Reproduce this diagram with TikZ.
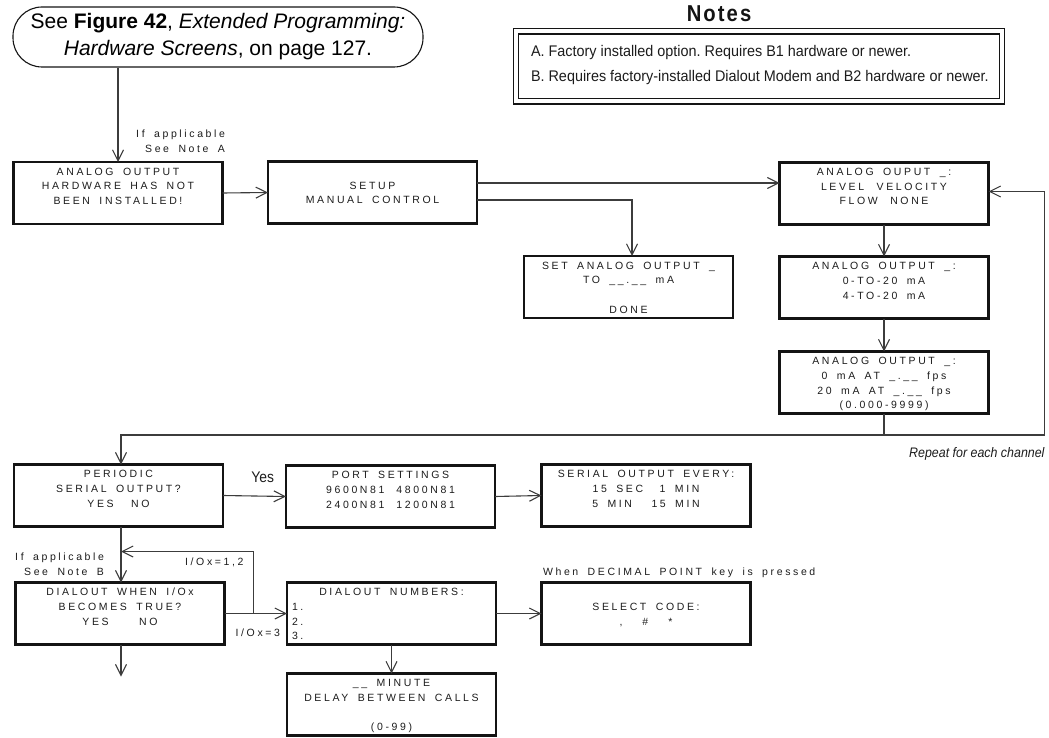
\documentclass[tikz,border=0pt]{standalone}
\usepackage{fontspec}
\setmainfont{Liberation Sans}
\newfontfamily\lcdfont[LetterSpace=25,WordSpace=1.7]{Liberation Sans}
\newfontfamily\narrowfont[FakeStretch=0.935]{Liberation Sans}
\newfontfamily\italfont[FakeStretch=0.9]{Liberation Sans}
\newfontfamily\titlefont[FakeStretch=0.88,LetterSpace=9]{Liberation Sans}
\usetikzlibrary{arrows.meta,calc}
\definecolor{boxcol}{HTML}{141414}
\definecolor{linecol}{HTML}{3C3C3C}
\definecolor{txtcol}{HTML}{1C1C1C}
\newcommand\lcd{\lcdfont\fontsize{10.5}{14.6}\selectfont}
\newcommand\scrtext[1]{\parbox[c][62pt][t]{209pt}{\centering\lcd\rule{0pt}{13.3pt}#1\par}}
\newcommand\numline[1]{\makebox[\linewidth][l]{\hspace*{5pt}#1}}
\newcommand\gap[1]{\hspace{#1pt}}
\frenchspacing
\begin{document}
\begin{tikzpicture}[x=1pt,y=-1pt,
 screen/.style={draw=boxcol, line width=2.2pt, inner sep=0pt, outer sep=0pt, text=txtcol, minimum width=209pt, minimum height=62pt},
 arr/.style={draw=linecol, line width=1.1pt, -{Straight Barb[length=11pt,width=11pt]}},
 conn/.style={draw=linecol, line width=1.1pt},
 lbl/.style={inner sep=0pt, outer sep=0pt, text=txtcol, font=\lcd},
 refbox/.style={draw=boxcol, line width=1.1pt, rounded corners=29pt, minimum width=410pt, minimum height=60pt, align=center, inner sep=0pt, font=\fontsize{21}{27}\selectfont},
 notesbox/.style={draw=boxcol, line width=1.2pt, double=white, double distance=4pt, inner sep=0pt, outer sep=0pt, minimum width=486pt, minimum height=70pt, text=txtcol},
]
\useasboundingbox (0,0) rectangle (1049,738);

\node[refbox] (ref) at (218,37) {See \textbf{Figure 42}, \textit{Extended Programming:}\\\textit{Hardware Screens}, on page 127.};

\node[notesbox] (notes) at (759,66.5) {\parbox[c][70pt][t]{470pt}{\raggedright\narrowfont\fontsize{15.4}{24.5}\selectfont\rule{0pt}{25.5pt}\hspace*{7pt}A. Factory installed option. Requires B1 hardware or newer.\\\hspace*{7pt}B. Requires factory-installed Dialout Modem and B2 hardware or newer.\par}};
\node[inner sep=0pt, anchor=base, text=boxcol, font=\fontsize{23}{26}\selectfont\titlefont\bfseries] (notestitle) at ([xshift=-40pt,yshift=9.5pt]notes.north) {Notes};

\node[screen] (hw) at (118,193) {\scrtext{ANALOG OUTPUT\\HARDWARE HAS NOT\\BEEN INSTALLED!}};
\node[screen] (setup) at (372.5,192.5) {\scrtext{\mbox{}\\SETUP\\MANUAL CONTROL}};
\node[screen] (selv) at (884,193.5) {\scrtext{ANALOG OUPUT \_:\\LEVEL\gap{12.5}VELOCITY\\FLOW\gap{12.5}NONE}};
\node[screen] (setao) at (628.5,287) {\scrtext{SET ANALOG OUTPUT \_\\TO \_\_.\_\_ mA\\\mbox{}\\DONE}};
\node[screen] (range) at (884,287.5) {\scrtext{ANALOG OUTPUT \_:\\0-TO-20 mA\\4-TO-20 mA}};
\node[screen] (span) at (884,382.5) {\scrtext{ANALOG OUTPUT \_:\\0 mA AT \_.\_\_ fps\\20 mA AT \_.\_\_ fps\\(0.000-9999)}};
\node[screen] (periodic) at (118.5,495.5) {\scrtext{PERIODIC\\SERIAL OUTPUT?\\YES\gap{17.5}NO}};
\node[screen] (port) at (390.5,496.5) {\scrtext{PORT SETTINGS\\9600N81\gap{12}4800N81\\2400N81\gap{12}1200N81}};
\node[screen] (every) at (646,495.5) {\scrtext{SERIAL OUTPUT EVERY:\\15 SEC\gap{16.5}1 MIN\\5 MIN\gap{19.5}15 MIN}};
\node[screen] (dialout) at (120,613.5) {\scrtext{DIALOUT WHEN I/Ox\\BECOMES TRUE?\\YES\gap{30.5}NO}};
\node[screen] (numbers) at (391.5,613.5) {\scrtext{DIALOUT NUMBERS:\\\numline{1.}\\\numline{2.}\\\numline{3.}}};
\node[screen] (code) at (646,613.5) {\scrtext{\mbox{}\\SELECT CODE:\\,\gap{20}\#\gap{20}*}};
\node[screen] (delay) at (391.5,704.5) {\scrtext{\_\_ MINUTE\\DELAY BETWEEN CALLS\\\mbox{}\\(0-99)}};

\draw[arr] (ref.south -| hw.north) -- (hw.north);
\draw[arr] (hw.east) -- (setup.west);
\coordinate (s1) at ([yshift=9.5pt]setup.east);
\coordinate (s2) at ([yshift=-7.5pt]setup.east);
\draw[arr] (s1) -- (s1 -| selv.west);
\draw[arr] (s2) -| ([xshift=3.5pt]setao.north);
\draw[arr] (selv.south) -- (range.north);
\draw[arr] (range.south) -- (span.north);
\coordinate (j) at ([yshift=-21.5pt]span.south);
\coordinate (rl) at ([xshift=160.5pt]j);
\draw[conn] (span.south) -- (j);
\draw[arr] (j) -| ([xshift=2.5pt]periodic.north);
\draw[arr] (j) -- (rl) |- ([yshift=2pt]selv.east);
\node[lbl, anchor=base east, font=\italfont\itshape\fontsize{13.8}{16}\selectfont] (repeat) at ([yshift=-22pt]rl) {Repeat for each channel};

\draw[arr] (periodic.east) -- node[lbl, pos=0.63, anchor=base, yshift=14pt, font=\italfont\fontsize{15.4}{18}\selectfont] (yes) {Yes} (port.west);
\draw[arr] (port.east) -- (every.west);
\coordinate (pv) at ([xshift=2.5pt]periodic.south);
\draw[arr] (pv) -- (pv |- dialout.north);
\coordinate (m) at ([yshift=-25pt]pv);
\coordinate (k) at ([xshift=29pt]dialout.east);
\draw[arr] (dialout.east) -- (numbers.west);
\draw[arr] (k) |- (m);
\coordinate (dv) at (pv |- dialout.south);
\coordinate (dend) at ([yshift=-32pt]dv);
\draw[arr] (dv) -- (dend);
\draw[arr] (numbers.south) -- (delay.north);
\draw[arr] (numbers.east) -- (code.west);

\node[lbl, align=right, anchor=south east, font=\lcdfont\fontsize{10.5}{15}\selectfont] (noteA) at ([xshift=2.5pt,yshift=9.5pt]hw.north east) {If applicable\\See Note A};
\node[lbl, align=right, anchor=south east, font=\lcdfont\fontsize{10.5}{15}\selectfont] (noteB) at ([xshift=-16pt,yshift=6.5pt]dialout.north) {If applicable\\See Note B};
\coordinate (c) at (k |- m);
\node[lbl, anchor=north east] (io12) at ([xshift=-10pt,yshift=-6.5pt]c) {I/Ox=1,2};
\node[lbl, anchor=north east] (io3) at ([xshift=-7pt,yshift=-15pt]numbers.west) {I/Ox=3};
\node[lbl, anchor=base west] (decimal) at ([xshift=1.5pt,yshift=7pt]code.north west) {When DECIMAL POINT key is pressed};
\end{tikzpicture}
\end{document}
